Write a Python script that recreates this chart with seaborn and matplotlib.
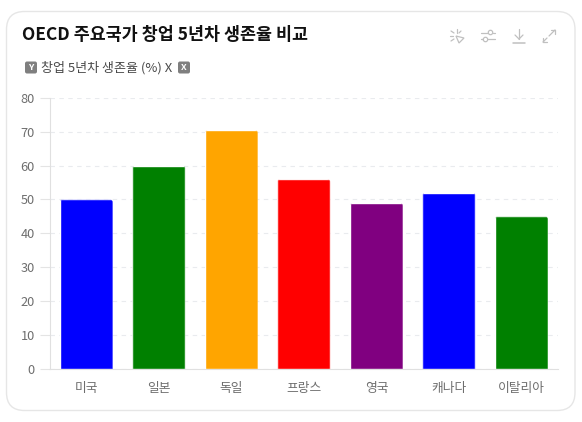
# survival rate bar chart
import matplotlib
matplotlib.use('Agg')
import matplotlib.pyplot as plt
import seaborn as sns
import pandas as pd
from matplotlib.patches import FancyBboxPatch, Polygon, Circle
from matplotlib.transforms import IdentityTransform

countries = ['미국', '일본', '독일', '프랑스', '영국', '캐나다', '이탈리아']
survival = [50, 60, 70.5, 56, 49, 52, 45]
bar_colors = ['#0000ff', '#008000', '#ffa500', '#ff0000', '#800080', '#0000ff', '#008000']
y_ticks = [0, 10, 20, 30, 40, 50, 60, 70, 80]

title = 'OECD 주요국가 창업 5년차 생존율 비교'
y_name = '창업 5년차 생존율 (%) X'

sns.set_theme(style='white')
plt.rcParams['font.family'] = ['Noto Sans CJK KR', 'DejaVu Sans']

W, H = 582, 422
fig = plt.figure(figsize=(W / 100, H / 100), dpi=100, facecolor='white')

# overlay in pixel coords for the card, header and icons
bg = fig.add_axes([0, 0, 1, 1], zorder=0)
bg.set_xlim(0, W)
bg.set_ylim(H, 0)
bg.axis('off')
bg.add_patch(FancyBboxPatch((6.5 + 18, 11.5 + 18), 568.5 - 36, 399 - 36,
                            boxstyle='round,pad=18,rounding_size=18',
                            fc='white', ec='#e6e6e6', lw=1))
bg.text(22, 35, title, fontsize=12.5, fontweight='bold', color='#111111', va='center')

for x, letter in [(31, 'Y'), (184, 'X')]:
    bg.add_patch(FancyBboxPatch((x - 4, 63.5), 8, 8, boxstyle='round,pad=2,rounding_size=2',
                                fc='#7f7f7f', ec='none'))
    bg.text(x, 67.5, letter, fontsize=6.5, fontweight='bold', color='white', ha='center', va='center')
bg.text(41, 67.5, y_name, fontsize=9.4, color='#4a4a4a', va='center')

ic = '#c0c0c0'
def seg(x0, y0, x1, y1, lw=0.9):
    bg.plot([x0, x1], [y0, y1], color=ic, lw=lw, solid_capstyle='round')

# magic icon
for s in [(457, 29, 457, 33), (451, 31, 454, 33), (450, 36, 453, 36), (451, 41, 454, 39), (461, 31, 459, 33)]:
    seg(*s)
bg.add_patch(Polygon([(456, 36), (464, 38), (459, 43)], closed=True, fc='none', ec=ic, lw=0.9))
# filter icon
seg(481, 33, 488, 33); seg(493, 33, 495, 33)
seg(481, 39, 483, 39); seg(488, 39, 495, 39)
bg.add_patch(Circle((490.5, 32.5), 2.2, fc='none', ec=ic, lw=0.9))
bg.add_patch(Circle((485.5, 39.5), 2.2, fc='none', ec=ic, lw=0.9))
# download icon
seg(519, 29, 519, 39); seg(515, 35, 519, 39); seg(523, 35, 519, 39)
seg(513, 42.5, 525, 42.5, lw=1.1)
# fullscreen icon
seg(549, 36, 555, 30); seg(551, 30, 555, 30); seg(555, 30, 555, 34)
seg(543, 42, 547, 38); seg(543, 38, 543, 42); seg(543, 42, 547, 42)

# chart
ax = fig.add_axes([50 / W, 1 - 368.8 / H, 507.7 / W, 271 / H], zorder=1)
ax.patch.set_alpha(0)
df = pd.DataFrame({'country': countries, 'survival': survival})
sns.barplot(data=df, x='country', y='survival', hue='country', palette=bar_colors,
            legend=False, width=0.73, saturation=1, ax=ax, zorder=3)
ax.set_xlim(-0.5, len(countries) - 0.5)
ax.set_ylim(0, 80)
ax.set_yticks(y_ticks)
ax.set_xlabel('')
ax.set_ylabel('')
ax.yaxis.grid(True, color='#e9ebee', linestyle=(0, (4, 4)), linewidth=0.8, zorder=0)
ax.xaxis.grid(False)
ax.tick_params(axis='y', length=7, width=0.8, color='#e4e4e4', labelcolor='#6e6e6e', labelsize=9.2, pad=4, left=True)
ax.tick_params(axis='x', length=0, labelcolor='#6e6e6e', labelsize=9.2, pad=9.5)
for s in ['top', 'right']:
    ax.spines[s].set_visible(False)
for s in ['left', 'bottom']:
    ax.spines[s].set_color('#e0e0e0')
    ax.spines[s].set_linewidth(0.8)

# round the bar tops (drawn in pixels, bottom corners hidden below the axis)
fig.canvas.draw()
for p in ax.patches:
    b = p.get_window_extent()
    clip = FancyBboxPatch((b.x0 + 3, b.y0 - 6), b.width - 6, b.height + 3,
                          boxstyle='round,pad=3,rounding_size=3', transform=IdentityTransform())
    p.set_clip_path(clip)

fig.savefig('out.png', dpi=100, facecolor='white')
